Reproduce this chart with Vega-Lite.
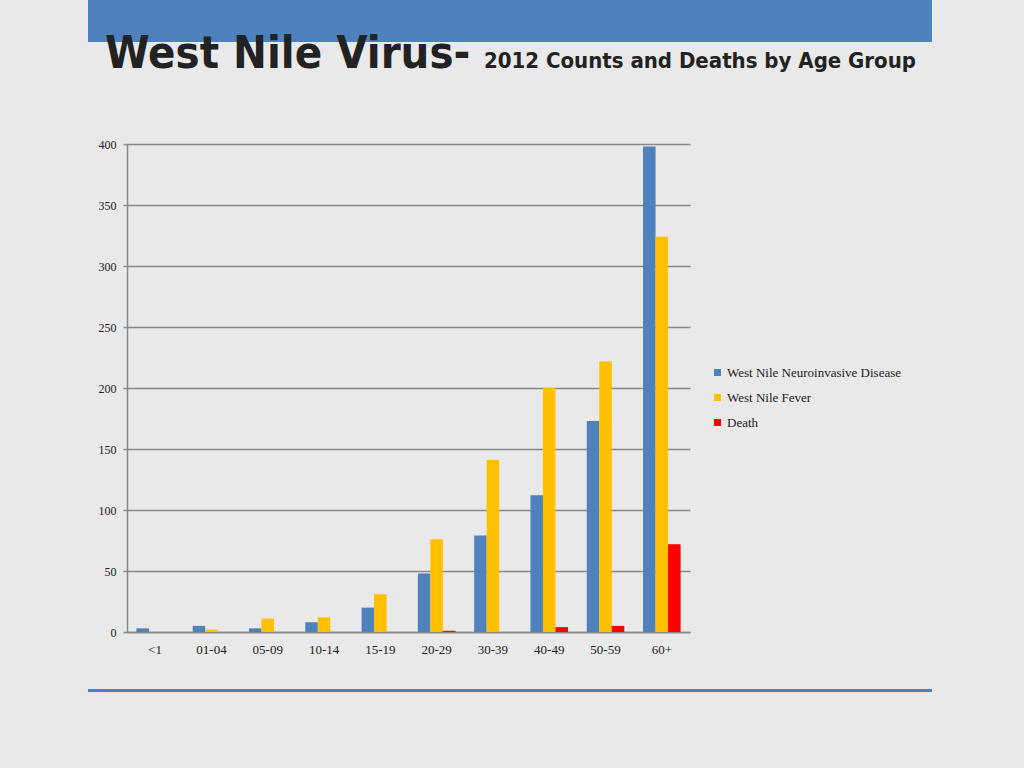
{
  "$schema": "https://vega.github.io/schema/vega-lite/v6.json",
  "background": "#e9e9e9",
  "padding": {"left": 88, "top": 0, "right": 92, "bottom": 76},
  "config": {
    "view": {"stroke": null},
    "font": "Liberation Serif"
  },
  "datasets": {
    "cases": [
      {"age": "<1", "series": "West Nile Neuroinvasive Disease", "count": 3},
      {"age": "<1", "series": "West Nile Fever", "count": 0},
      {"age": "<1", "series": "Death", "count": 0},
      {"age": "01-04", "series": "West Nile Neuroinvasive Disease", "count": 5},
      {"age": "01-04", "series": "West Nile Fever", "count": 2},
      {"age": "01-04", "series": "Death", "count": 0},
      {"age": "05-09", "series": "West Nile Neuroinvasive Disease", "count": 3},
      {"age": "05-09", "series": "West Nile Fever", "count": 11},
      {"age": "05-09", "series": "Death", "count": 0},
      {"age": "10-14", "series": "West Nile Neuroinvasive Disease", "count": 8},
      {"age": "10-14", "series": "West Nile Fever", "count": 12},
      {"age": "10-14", "series": "Death", "count": 0},
      {"age": "15-19", "series": "West Nile Neuroinvasive Disease", "count": 20},
      {"age": "15-19", "series": "West Nile Fever", "count": 31},
      {"age": "15-19", "series": "Death", "count": 0},
      {"age": "20-29", "series": "West Nile Neuroinvasive Disease", "count": 48},
      {"age": "20-29", "series": "West Nile Fever", "count": 76},
      {"age": "20-29", "series": "Death", "count": 1},
      {"age": "30-39", "series": "West Nile Neuroinvasive Disease", "count": 79},
      {"age": "30-39", "series": "West Nile Fever", "count": 141},
      {"age": "30-39", "series": "Death", "count": 0},
      {"age": "40-49", "series": "West Nile Neuroinvasive Disease", "count": 112},
      {"age": "40-49", "series": "West Nile Fever", "count": 200},
      {"age": "40-49", "series": "Death", "count": 4},
      {"age": "50-59", "series": "West Nile Neuroinvasive Disease", "count": 173},
      {"age": "50-59", "series": "West Nile Fever", "count": 222},
      {"age": "50-59", "series": "Death", "count": 5},
      {"age": "60+", "series": "West Nile Neuroinvasive Disease", "count": 398},
      {"age": "60+", "series": "West Nile Fever", "count": 324},
      {"age": "60+", "series": "Death", "count": 72}
    ]
  },
  "columns": 1,
  "align": "none",
  "spacing": 33,
  "concat": [
    {
      "columns": 1,
      "align": "none",
      "spacing": 61,
      "concat": [
        {
          "spacing": 0,
          "hconcat": [
            {
              "width": 396,
              "height": 42,
              "view": {"fill": "#4f81bd", "stroke": null},
              "data": {"values": []},
              "mark": "point",
              "title": {
                "text": "West Nile Virus-",
                "orient": "bottom",
                "anchor": "start",
                "baseline": "alphabetic",
                "dx": 17,
                "offset": 26,
                "font": "DejaVu Sans Condensed",
                "fontWeight": "bold",
                "fontSize": 45,
                "color": "#222222"
              }
            },
            {
              "width": 448,
              "height": 42,
              "view": {"fill": "#4f81bd", "stroke": null},
              "data": {"values": []},
              "mark": "point",
              "title": {
                "text": "2012 Counts and Deaths by Age Group",
                "orient": "bottom",
                "anchor": "start",
                "baseline": "alphabetic",
                "dx": 0,
                "offset": 26,
                "font": "DejaVu Sans Condensed",
                "fontWeight": "bold",
                "fontSize": 22,
                "color": "#222222"
              }
            }
          ]
        },
        {
          "spacing": 0,
          "hconcat": [
            {
              "width": 1,
              "height": 1,
              "data": {"values": []},
              "mark": "point"
            },
            {
              "width": 563,
              "height": 488,
              "data": {"name": "cases"},
              "mark": {"type": "bar"},
              "encoding": {
                "x": {
                  "field": "age",
                  "type": "nominal",
                  "sort": ["<1", "01-04", "05-09", "10-14", "15-19", "20-29", "30-39", "40-49", "50-59", "60+"],
                  "scale": {"paddingInner": 0.333, "paddingOuter": 0.167},
                  "axis": {
                    "title": null,
                    "labelAngle": 0,
                    "labelFont": "Liberation Serif",
                    "labelFontSize": 13,
                    "labelColor": "#222222",
                    "labelPadding": 11,
                    "ticks": false,
                    "domainColor": "#898989",
                    "domainWidth": 1.5
                  }
                },
                "xOffset": {
                  "field": "series",
                  "type": "nominal",
                  "sort": ["West Nile Neuroinvasive Disease", "West Nile Fever", "Death"],
                  "scale": {"paddingInner": 0, "paddingOuter": 0}
                },
                "y": {
                  "field": "count",
                  "type": "quantitative",
                  "scale": {"domain": [0, 400], "nice": false},
                  "axis": {
                    "title": null,
                    "values": [0, 50, 100, 150, 200, 250, 300, 350, 400],
                    "labelFont": "Liberation Serif",
                    "labelFontSize": 12,
                    "labelColor": "#222222",
                    "labelPadding": 7,
                    "tickSize": 4,
                    "tickColor": "#898989",
                    "tickWidth": 1.5,
                    "gridColor": "#898989",
                    "gridWidth": 1.5,
                    "domainColor": "#898989",
                    "domainWidth": 1.5,
                    "minExtent": 38,
                    "maxExtent": 38
                  }
                },
                "color": {
                  "field": "series",
                  "type": "nominal",
                  "sort": ["West Nile Neuroinvasive Disease", "West Nile Fever", "Death"],
                  "scale": {
                    "domain": ["West Nile Neuroinvasive Disease", "West Nile Fever", "Death"],
                    "range": ["#4f81bd", "#ffc000", "#ff0000"]
                  },
                  "legend": {
                    "title": null,
                    "orient": "none",
                    "legendX": 623,
                    "legendY": 366,
                    "symbolType": "square",
                    "symbolSize": 49,
                    "symbolStrokeWidth": 0,
                    "labelFont": "Liberation Serif",
                    "labelFontSize": 13,
                    "labelColor": "#222222",
                    "labelOffset": 3,
                    "labelLimit": 260,
                    "rowPadding": 11
                  }
                }
              }
            }
          ]
        }
      ]
    },
    {
      "width": 844,
      "height": 3,
      "view": {"fill": "#4f81bd", "stroke": null},
      "data": {"values": []},
      "mark": "point"
    }
  ]
}
